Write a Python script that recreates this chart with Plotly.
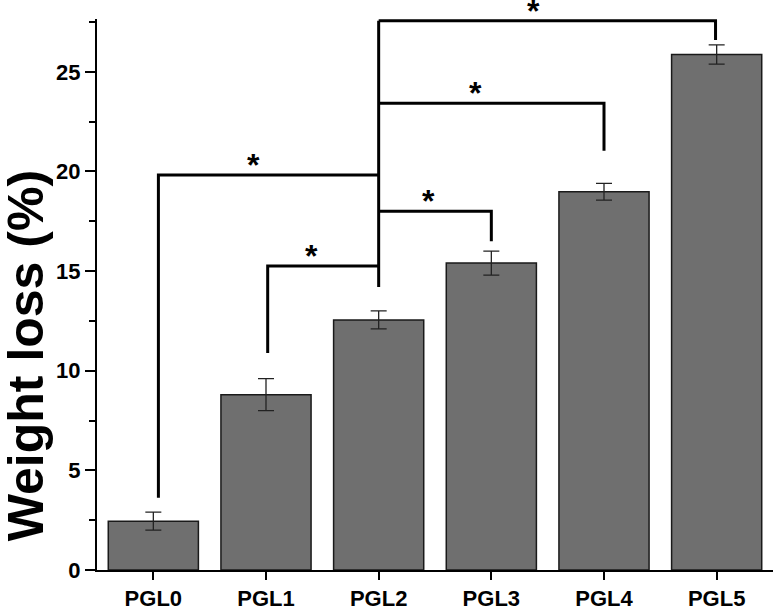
import plotly.graph_objects as go

# ---- data ----
categories = ["PGL0", "PGL1", "PGL2", "PGL3", "PGL4", "PGL5"]
weight_loss = [2.45, 8.8, 12.55, 15.4, 18.98, 25.87]
weight_err = [0.45, 0.8, 0.45, 0.6, 0.42, 0.48]

# significance brackets: each compares PGL2 (hub) with another group
hub_index = 2
hub_leg_bottom = 14.2
bracket_other = [0, 1, 3, 4, 5]
bracket_height = [19.82, 15.25, 18.0, 23.42, 27.56]
bracket_leg_bottom = [3.63, 10.89, 16.5, 21.04, 26.6]
bracket_leg_offset = [0.045, 0.015, 0.0, 0.0, -0.01]
star_x = [0.885, 1.408, 2.438, 2.855, 3.37]
star_label = ["*", "*", "*", "*", "*"]

yticks = [0, 5, 10, 15, 20, 25]

FONT = "Liberation Sans, Arial, sans-serif"

fig = go.Figure()
fig.add_trace(go.Bar(
    x=list(range(len(categories))), y=weight_loss, width=0.8,
    marker=dict(color="#6f6f6f", line=dict(color="#1a1a1a", width=1.5)),
    error_y=dict(type="data", array=weight_err, color="#222222", thickness=1.3, width=8),
    showlegend=False,
))

# bracket lines
xs, ys = [], []
top = max(bracket_height)
xs += [hub_index, hub_index, None]
ys += [hub_leg_bottom, top, None]
for o, h, b, off in zip(bracket_other, bracket_height, bracket_leg_bottom, bracket_leg_offset):
    xs += [hub_index, o + off, o + off, None]
    ys += [h, h, b, None]
fig.add_trace(go.Scatter(x=xs, y=ys, mode="lines",
                         line=dict(color="black", width=3), showlegend=False,
                         hoverinfo="skip"))

# stars
for sx, h, s in zip(star_x, bracket_height, star_label):
    fig.add_annotation(x=sx, y=h, text="<b>%s</b>" % s, showarrow=False,
                       yanchor="bottom", yshift=-10,
                       font=dict(family=FONT, size=32, color="black"))

# y-axis title
fig.add_annotation(xref="paper", yref="paper", x=-0.105, y=0.388,
                   text="<b>Weight loss (%)</b>", textangle=-90, showarrow=False,
                   xanchor="center", yanchor="middle",
                   font=dict(family=FONT, size=50, color="black"))

fig.update_layout(
    width=774, height=607,
    margin=dict(l=97, r=1, t=19, b=37),
    paper_bgcolor="white", plot_bgcolor="white",
    font=dict(family=FONT, color="black"),
    bargap=0.2,
)
fig.update_xaxes(
    range=[-0.5, 5.5], tickmode="array", tickvals=list(range(len(categories))),
    ticktext=["<b>%s</b>" % c for c in categories],
    tickfont=dict(family=FONT, size=22, color="black"),
    showline=True, linecolor="black", linewidth=2,
    ticks="outside", ticklen=8, tickwidth=2, tickcolor="black",
    showgrid=False, zeroline=False, automargin=False,
)
fig.update_yaxes(
    range=[0, 27.65], tickmode="array", tickvals=yticks,
    ticktext=["<b>%d</b>" % v for v in yticks],
    tickfont=dict(family=FONT, size=22, color="black"),
    showline=True, linecolor="black", linewidth=2,
    ticks="outside", ticklen=10, tickwidth=2, tickcolor="black",
    minor=dict(dtick=2.5, tick0=0, ticks="outside", ticklen=6, tickwidth=2, tickcolor="black"),
    showgrid=False, zeroline=False, automargin=False,
)

fig.write_html("out.html", config={"displayModeBar": False},
               post_script="document.body.style.margin='0px';")
